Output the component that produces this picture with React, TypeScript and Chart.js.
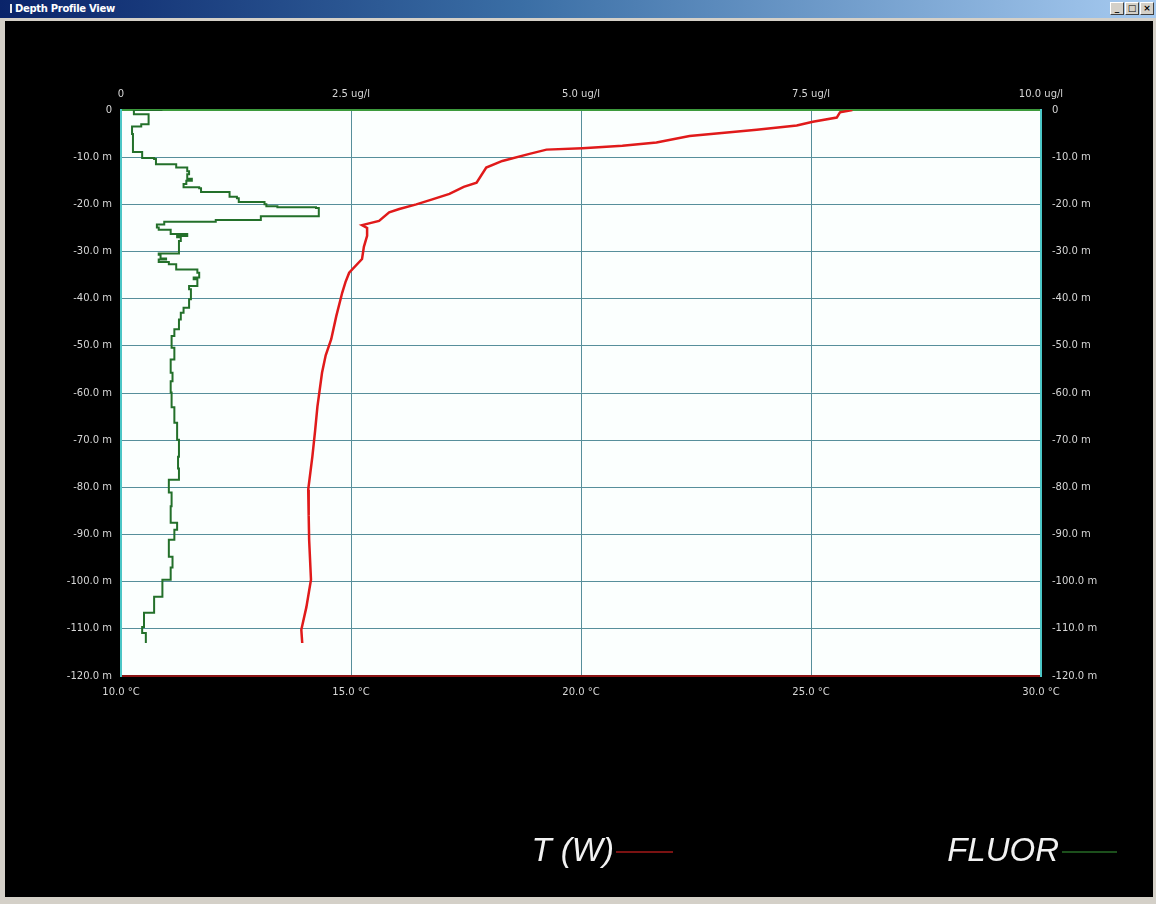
import React, { useEffect, useRef } from "react";
import { Chart, registerables } from "chart.js";

Chart.register(...registerables);

// FLUOR profile (ug/l) against depth (m)
const fluorDepths = [0, -0.4, -0.9, -0.9, -3.0, -3.5, -5.1, -8.9, -10.2, -10.4, -11.5, -12.2, -13.0, -13.6, -14.6, -15.0, -15.7, -16.4, -16.6, -17.4, -17.8, -18.4, -18.7, -19.5, -20.0, -20.4, -20.6, -20.8, -22.5, -22.9, -23.3, -23.7, -24.3, -24.9, -25.4, -25.8, -26.3, -26.7, -27.0, -27.8, -28.9, -30.4, -30.7, -31.5, -31.7, -32.2, -32.7, -33.8, -34.5, -35.5, -35.9, -37.3, -38.0, -40.1, -41.9, -43.0, -44.4, -46.5, -47.9, -50.4, -52.9, -55.7, -57.5, -59.9, -63.0, -66.3, -69.9, -73.5, -76.0, -78.4, -81.1, -84.0, -87.5, -89.0, -91.1, -94.7, -97.0, -99.6, -103.2, -106.6, -109.6, -110.9, -113.0];
const fluorValues = [0.45, 0.14, 0.14, 0.30, 0.30, 0.22, 0.12, 0.13, 0.23, 0.36, 0.38, 0.60, 0.72, 0.74, 0.72, 0.77, 0.71, 0.68, 0.85, 0.87, 1.18, 1.18, 1.26, 1.28, 1.56, 1.58, 1.70, 2.12, 2.15, 1.52, 1.52, 1.03, 0.47, 0.39, 0.41, 0.54, 0.54, 0.72, 0.61, 0.65, 0.63, 0.63, 0.41, 0.43, 0.49, 0.41, 0.52, 0.60, 0.83, 0.85, 0.79, 0.83, 0.74, 0.76, 0.74, 0.68, 0.65, 0.63, 0.58, 0.55, 0.58, 0.54, 0.56, 0.54, 0.55, 0.58, 0.61, 0.63, 0.62, 0.63, 0.52, 0.55, 0.54, 0.61, 0.58, 0.52, 0.56, 0.54, 0.45, 0.36, 0.25, 0.23, 0.27];

// T (W) profile (°C) against depth (m)
const tempDepths = [0, -0.5, -1.6, -2.5, -3.3, -4.2, -5.5, -6.9, -7.6, -8.1, -8.4, -9.3, -10.8, -12.2, -15.4, -16.3, -17.8, -19.0, -20.0, -21.0, -21.7, -23.5, -24.4, -25.0, -26.7, -29.0, -31.6, -34.5, -36.5, -38.7, -43.7, -48.6, -52.0, -55.7, -62.9, -68.0, -73.5, -80.5, -86.0, -91.1, -99.6, -105.4, -110.2, -113.0];
const tempValues = [25.9, 25.63, 25.56, 25.04, 24.69, 23.82, 22.36, 21.64, 20.90, 20.03, 19.25, 18.88, 18.29, 17.94, 17.73, 17.45, 17.14, 16.75, 16.42, 16.05, 15.83, 15.61, 15.24, 15.35, 15.35, 15.28, 15.24, 14.96, 14.88, 14.81, 14.68, 14.57, 14.45, 14.37, 14.27, 14.22, 14.16, 14.07, 14.08, 14.09, 14.13, 14.03, 13.92, 13.94];

// Tick labels
const depthTicks = [0, -10, -20, -30, -40, -50, -60, -70, -80, -90, -100, -110, -120];
const depthTickLabels = ["0", "-10.0 m", "-20.0 m", "-30.0 m", "-40.0 m", "-50.0 m", "-60.0 m", "-70.0 m", "-80.0 m", "-90.0 m", "-100.0 m", "-110.0 m", "-120.0 m"];
const fluorTicks = [0, 2.5, 5, 7.5, 10];
const fluorTickLabels = ["0", "2.5 ug/l", "5.0 ug/l", "7.5 ug/l", "10.0 ug/l"];
const tempTicks = [10, 15, 20, 25, 30];
const tempTickLabels = ["10.0 °C", "15.0 °C", "20.0 °C", "25.0 °C", "30.0 °C"];

const seriesNames = ["T (W)", "FLUOR"];

const W = 1156;
const H = 904;
const AREA = { left: 121, right: 1041, top: 110, bottom: 676 };

const TICK_FONT = { family: "'DejaVu Sans', sans-serif", size: 10 };
const TICK_COLOR = "#d6d6d6";
const GRID_COLOR = "#568f9b";

function lookup(ticks: number[], labels: string[], v: number): string {
  for (let i = 0; i < ticks.length; i++) {
    if (Math.abs(ticks[i] - v) < 1e-6) return labels[i];
  }
  return "";
}

const plotBackground = {
  id: "plotBackground",
  beforeDraw(chart: any) {
    const { ctx, chartArea } = chart;
    ctx.save();
    ctx.fillStyle = "#fbfffe";
    ctx.fillRect(chartArea.left, chartArea.top, chartArea.right - chartArea.left, chartArea.bottom - chartArea.top);
    ctx.restore();
  },
};

function ChartCanvas() {
  const ref = useRef<HTMLCanvasElement | null>(null);
  useEffect(() => {
    if (!ref.current) return;
    const tempPoints = tempDepths.map((d, i) => ({ x: tempValues[i], y: d }));
    const fluorPoints = fluorDepths.map((d, i) => ({ x: fluorValues[i], y: d }));
    const chart = new Chart(ref.current, {
      type: "line",
      data: {
        datasets: [
          {
            label: seriesNames[0],
            data: tempPoints,
            xAxisID: "xT",
            yAxisID: "yL",
            borderColor: "#e01a1a",
            borderWidth: 2.5,
            pointRadius: 0,
            tension: 0,
          },
          {
            label: seriesNames[1],
            data: fluorPoints,
            xAxisID: "xF",
            yAxisID: "yL",
            borderColor: "#23702a",
            borderWidth: 2,
            pointRadius: 0,
            stepped: "before",
          },
        ],
      },
      options: {
        animation: false,
        responsive: false,
        maintainAspectRatio: false,
        devicePixelRatio: 1,
        layout: { padding: 0 },
        plugins: {
          legend: { display: false },
          tooltip: { enabled: false },
          title: { display: false },
        },
        scales: {
          xT: {
            type: "linear",
            position: "bottom",
            min: 10,
            max: 30,
            afterBuildTicks: (s: any) => { s.ticks = tempTicks.map((v) => ({ value: v })); },
            afterFit: (s: any) => { s.height = H - AREA.bottom; },
            ticks: {
              color: TICK_COLOR,
              font: TICK_FONT,
              padding: 10,
              maxRotation: 0,
              autoSkip: false,
              callback: (v: any) => lookup(tempTicks, tempTickLabels, Number(v)),
            },
            grid: { display: true, color: GRID_COLOR, lineWidth: 1, drawTicks: false },
            border: { display: true, color: "#8c1414", width: 2 },
          },
          xF: {
            type: "linear",
            position: "top",
            min: 0,
            max: 10,
            afterBuildTicks: (s: any) => { s.ticks = fluorTicks.map((v) => ({ value: v })); },
            afterFit: (s: any) => { s.height = AREA.top; },
            ticks: {
              color: TICK_COLOR,
              font: TICK_FONT,
              padding: 10,
              maxRotation: 0,
              autoSkip: false,
              callback: (v: any) => lookup(fluorTicks, fluorTickLabels, Number(v)),
            },
            grid: { display: false, drawTicks: false },
            border: { display: true, color: "#3c9a3c", width: 2 },
          },
          yL: {
            type: "linear",
            position: "left",
            min: -120,
            max: 0,
            afterBuildTicks: (s: any) => { s.ticks = depthTicks.slice().reverse().map((v) => ({ value: v })); },
            afterFit: (s: any) => { s.width = AREA.left; },
            ticks: {
              color: TICK_COLOR,
              font: TICK_FONT,
              padding: 9,
              autoSkip: false,
              callback: (v: any) => lookup(depthTicks, depthTickLabels, Number(v)),
            },
            grid: { display: true, color: GRID_COLOR, lineWidth: 1, drawTicks: false },
            border: { display: true, color: "#4cc6c6", width: 2 },
          },
          yR: {
            type: "linear",
            position: "right",
            min: -120,
            max: 0,
            afterBuildTicks: (s: any) => { s.ticks = depthTicks.slice().reverse().map((v) => ({ value: v })); },
            afterFit: (s: any) => { s.width = W - AREA.right; },
            ticks: {
              color: TICK_COLOR,
              font: TICK_FONT,
              padding: 11,
              autoSkip: false,
              callback: (v: any) => lookup(depthTicks, depthTickLabels, Number(v)),
            },
            grid: { display: false, drawTicks: false },
            border: { display: true, color: "#4cc6c6", width: 2 },
          },
        },
      },
      plugins: [plotBackground],
    } as any);
    return () => chart.destroy();
  }, []);
  return (
    <canvas
      ref={ref}
      width={W}
      height={H}
      style={{ position: "absolute", left: 0, top: 0, width: W, height: H }}
    />
  );
}

const btnStyle: React.CSSProperties = {
  position: "absolute",
  top: 2,
  width: 14,
  height: 13,
  background: "#d4d0c8",
  borderTop: "1px solid #ffffff",
  borderLeft: "1px solid #ffffff",
  borderRight: "1px solid #404040",
  borderBottom: "1px solid #404040",
  boxSizing: "border-box",
  color: "#000",
  font: "bold 9px 'DejaVu Sans', sans-serif",
  lineHeight: "11px",
  textAlign: "center",
};

const legendText: React.CSSProperties = {
  position: "absolute",
  top: 831,
  height: 44,
  lineHeight: "44px",
  color: "#f2f2f2",
  font: "italic 33px 'Liberation Sans', Arial, sans-serif",
  whiteSpace: "nowrap",
  textAlign: "right",
};

export default function App() {
  return (
    <div style={{ position: "relative", width: W, height: H, background: "#d4d0c8", overflow: "hidden" }}>
      <style>{`body{margin:0;}`}</style>
      {/* title bar */}
      <div
        style={{
          position: "absolute",
          left: 0,
          top: 0,
          width: W,
          height: 18,
          background: "linear-gradient(to right, #0a246a 0%, #3a6ea5 45%, #a6caf0 100%)",
        }}
      >
        <div style={{ position: "absolute", left: 10, top: 4, width: 2, height: 9, background: "#e8e8e8" }} />
        <div
          style={{
            position: "absolute",
            left: 15,
            top: 2,
            color: "#ffffff",
            font: "bold 10px 'DejaVu Sans', sans-serif",
            letterSpacing: "-0.3px",
            lineHeight: "14px",
          }}
        >
          Depth Profile View
        </div>
        <div style={{ ...btnStyle, left: 1110 }}>_</div>
        <div style={{ ...btnStyle, left: 1125 }}>□</div>
        <div style={{ ...btnStyle, left: 1140 }}>×</div>
      </div>
      {/* black panel */}
      <div style={{ position: "absolute", left: 5, top: 21, width: 1148, height: 876, background: "#000000" }} />
      <ChartCanvas />
      {/* legend */}
      <div style={{ ...legendText, left: 500, width: 114 }}>{seriesNames[0]}</div>
      <div style={{ position: "absolute", left: 616, top: 851, width: 57, height: 2, background: "#7a1212" }} />
      <div style={{ ...legendText, left: 900, width: 159 }}>{seriesNames[1]}</div>
      <div style={{ position: "absolute", left: 1062, top: 851, width: 55, height: 2, background: "#1c4f1c" }} />
    </div>
  );
}
